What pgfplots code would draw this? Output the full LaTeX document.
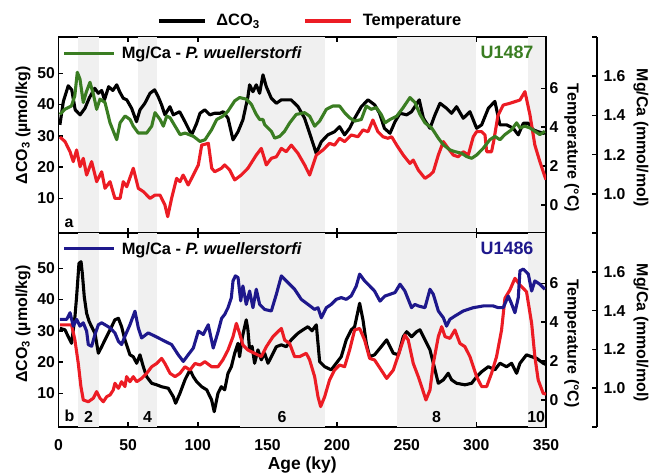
\documentclass[border=0pt]{standalone}
\usepackage{fontspec}
\setmainfont{Liberation Sans}
\usepackage{pgfplots}
\pgfplotsset{compat=1.18}

\definecolor{cgreen}{RGB}{58,125,34}
\definecolor{cblue}{RGB}{30,24,140}
\definecolor{cred}{RGB}{236,28,36}
\definecolor{band}{RGB}{240,240,240}

\newcommand{\lblfont}{\fontsize{16}{18}\selectfont\bfseries}
\newcommand{\tickfont}{\fontsize{15.8}{17}\selectfont\bfseries}
\newcommand{\legfont}{\fontsize{16.5}{18}\selectfont\bfseries}

\pgfplotsset{
  panel/.style={
    scale only axis, width=487.5bp,
    xmin=0, xmax=350,
    clip mode=individual,
    /pgf/number format/assume math mode=true,
    tick label style={font=\tickfont},
    tick align=inside,
    major tick length=5bp,
    axis line style={line width=1.6bp},
    tick style={black, line width=1.5bp},
  },
  series/.style={line width=3.1bp, line join=round},
  mglegend/.style={
    legend style={at={(0.0082,0.918)}, anchor=west, draw=none, fill=none,
      inner sep=0pt, nodes={inner sep=0pt}, font=\legfont,
      /tikz/every odd column/.append style={column sep=6bp}},
    legend image code/.code={\draw[##1] (0bp,0bp) -- (50bp,0bp);},
  },
}

\begin{document}
\begin{tikzpicture}
\useasboundingbox (-58.5bp,-49bp) rectangle (592.5bp,427bp);

% ---------------- Site U1487 (panel a) ----------------
\begin{axis}[panel, at={(0,194bp)}, height=196bp,
  ymin=-1.1, ymax=61.6, ytick={10,20,30,40,50}, ytick pos=left,
  xtick={0,50,...,350}, xtick pos=both, xticklabels={},
  legend columns=2,
  legend style={at={(0.2021,1.0816)}, anchor=west,
    draw=none, fill=none, inner sep=0pt, nodes={inner sep=0pt}, font=\legfont,
    /tikz/every odd column/.append style={column sep=10bp},
    /tikz/every even column/.append style={column sep=44bp}},
  legend image code/.code={\draw[#1] (0bp,0bp) -- (46bp,0bp);},
]
\fill[band] (axis cs:14,-1.1) rectangle (axis cs:29,61.6);
\fill[band] (axis cs:57,-1.1) rectangle (axis cs:71,61.6);
\fill[band] (axis cs:130,-1.1) rectangle (axis cs:191,61.6);
\fill[band] (axis cs:243,-1.1) rectangle (axis cs:300,61.6);
\fill[band] (axis cs:337,-1.1) rectangle (axis cs:350,61.6);
\addplot[series, black, forget plot] coordinates {
(1,33.5) (3.5,41) (7,46) (9.5,44.7) (12,38.3) (15.5,36.7) (19,38.8) (22,42)
(26,45.2) (28.6,43.6) (31,44.5) (33,41.5) (36,45.7) (39,44.5) (41.8,46.3)
(44,44) (46.5,42) (49,41.5) (52.5,38.8) (56,34.5) (58.5,38.3) (62,40.4)
(65.7,43.6) (69,44.7) (71.6,42.5) (74,39.9) (76.4,36.7) (80,39.3) (82.4,36.7)
(87,37.7) (90.8,34.5) (94.4,31.3) (95.6,30.3) (99.2,34) (101.6,37.2) (105,38.3)
(108.7,36.7) (112,37.2) (116,37.2) (118.3,37.7) (121.7,35.6) (125.3,28.7)
(128.9,31.3) (132.4,35.1) (136,42.5) (137.2,46.3) (139.6,44.1) (142,46.3)
(144.4,43.6) (146.8,49.5) (149.2,45.7) (152.8,42) (156.4,40.4) (160,41.5)
(167,41.5) (172,39.3) (176.7,35.6) (181.5,29.2) (185,24.4) (188.7,28.1)
(193.4,30.3) (198.2,31.3) (201.8,32.9) (205.4,30.3) (209,32.4) (212.6,35.6)
(217.4,39.3) (222.2,41.5) (227,39.9) (230.5,37.2) (234,32.4) (238,30.8)
(241.6,34.5) (245.2,37.2) (250,36.7) (253.5,37.7) (259,41.5) (262,35.6)
(266.7,32.4) (270.3,36.7) (273.9,40.4) (278.6,38.8) (282.2,37.2) (285.8,39.3)
(290.6,35.6) (295.4,37.7) (300.2,32.4) (303.8,33.5) (308.6,38.8) (313.3,41)
(316.9,33.5) (321.7,33.5) (326.5,32.4) (330.1,30.3) (333.7,34) (337.3,34)
(340.9,31.9) (344.4,31.3) (348,30.8) (350,31)
};
\addlegendimage{series, black}
\addlegendentry{ΔCO\textsubscript{3}}
\addlegendimage{series, cred}
\addlegendentry{Temperature}
\node[font=\lblfont, rotate=90] at (axis description cs:-0.0728,0.5485)
  {ΔCO\textsubscript{3} (µmol/kg)};
\node[font=\lblfont, anchor=south west] at (axis description cs:0,0)
  [xshift=2.5bp, yshift=1.5bp] {a};
\end{axis}

\begin{axis}[panel, at={(0,194bp)}, height=196bp, hide x axis,
  axis y line*=right, ymin=-1.44, ymax=8.64, ytick={0,2,4,6}]
\addplot[series, cred] coordinates {
(1,3.5) (4.7,3.26) (8.3,2.74) (10.6,2.23) (13,2.83) (15.5,1.97) (17.8,2.4)
(20.2,1.54) (23.8,2.23) (27.4,1.2) (31,1.71) (33.4,0.86) (37,1.2) (40.5,0.34)
(44.2,0.34) (46.5,1.2) (49,0.94) (53.7,1.89) (57.3,0.86) (60.9,0.69) (65.7,0.34)
(69.3,0.51) (72.9,0.51) (76.4,0.0) (78.4,-0.6) (81.2,0.34) (84.8,1.37) (87.2,1.2)
(89.5,1.54) (93.1,1.03) (96.8,1.54) (100.4,2.06) (102.8,3.08) (107.6,3.17)
(110,1.89) (112.2,1.71) (117,1.89) (119.3,2.06) (122.9,1.8) (126.5,1.29)
(131.2,1.54) (136,1.89) (142,2.57) (145.6,2.91) (149.2,2.06) (152.8,2.4)
(156.4,2.48) (160,2.91) (163.5,2.74) (167.1,3.08) (171.9,2.66) (176.7,2.06)
(180.3,1.54) (185.1,2.57) (189.9,2.83) (194.6,3.17) (198.2,3.08) (201.8,3.43)
(205.4,3.26) (210.2,3.6) (215,3.51) (218.6,3.86) (222.2,3.77) (225.7,4.37)
(229.3,3.77) (233,3.51) (236.5,3.43) (239.2,3.51) (242.8,3.08) (247.5,2.57)
(252.3,2.14) (254.7,2.31) (258.3,1.8) (263.1,1.37) (266.7,1.54) (269.1,1.71)
(272.7,2.57) (276.3,3.26) (279.8,2.91) (283.4,2.57) (287,2.48) (290.6,2.74)
(294.2,2.57) (297.8,3.51) (300.2,3.77) (303.8,3.77) (306.2,3.6) (307.4,2.74)
(310.9,2.74) (312.5,3.3) (315.5,4.6) (319.3,5.14) (324.1,5.23) (331.3,5.4)
(334.9,5.83) (338.5,4.63) (342,3.08) (345.6,2.23) (349.2,1.46) (350,1.3)
};
\node[font=\lblfont, rotate=-90] at (axis description cs:1.0527,0.434)
  {Temperature (°C)};
\end{axis}

\begin{axis}[panel, mglegend, at={(0,194bp)}, height=196bp, hide x axis,
  axis y line*=right, axis y line shift=51bp,
  yticklabel style={xshift=3bp},
  ymin=0.8, ymax=1.8, ytick={0.8,1,1.2,1.4,1.6,1.8},
  yticklabels={,1.0,1.2,1.4,1.6,}]
\addplot[series, cgreen] coordinates {
(1,1.405) (4.5,1.431) (9.3,1.448) (11.7,1.5) (13.5,1.62) (15.4,1.586)
(17.8,1.466) (20,1.52) (22.6,1.569) (25,1.509) (27.4,1.431) (29.8,1.483)
(33.4,1.466) (34.6,1.431) (37,1.362) (39.4,1.319) (41.8,1.276) (44.2,1.362)
(47.8,1.397) (51.4,1.379) (53.7,1.345) (57.3,1.31) (63.3,1.31) (66.9,1.345)
(69.3,1.414) (72.9,1.379) (75.3,1.345) (77.7,1.397) (80.1,1.388) (83.7,1.345)
(87.3,1.302) (90.9,1.31) (96.9,1.293) (101.6,1.267) (105.2,1.276) (110,1.328)
(113.6,1.379) (118,1.396) (121.7,1.422) (126.5,1.474) (130,1.491) (134.8,1.483)
(138.4,1.457) (142,1.405) (144.4,1.379) (146.8,1.379) (148,1.353) (152.8,1.319)
(155.2,1.284) (158.8,1.293) (162.3,1.319) (166,1.362) (170.7,1.405)
(176.7,1.414) (180.3,1.396) (183.9,1.345) (187.5,1.371) (192.3,1.431)
(197,1.448) (201.8,1.448) (205.4,1.414) (209,1.388) (212.6,1.371) (217.4,1.379)
(221,1.448) (224.5,1.431) (228.1,1.44) (231.7,1.405) (234.4,1.362) (238,1.379)
(242.8,1.396) (247.5,1.44) (252.3,1.491) (255.9,1.466) (259.5,1.405)
(263.1,1.362) (267.9,1.336) (272.7,1.284) (276.3,1.25) (281,1.224) (284.6,1.215)
(289.4,1.207) (293,1.19) (296.6,1.181) (300.2,1.198) (305,1.233) (309.7,1.276)
(313.3,1.293) (316.9,1.276) (320.5,1.302) (325.3,1.327) (328.9,1.362)
(331.3,1.336) (334.9,1.345) (338.5,1.336) (342,1.319) (345.6,1.302) (349.2,1.319)
};
\addlegendentry{Mg/Ca - \textit{P. wuellerstorfi}}
\node[font=\fontsize{18}{20}\selectfont\bfseries, text=cgreen, anchor=east]
  at (axis description cs:1,1) [xshift=-9bp, yshift=-15bp] {U1487};
\node[font=\lblfont, rotate=-90] at (axis description cs:1.195,0.485)
  {Mg/Ca (mmol/mol)};
\end{axis}

% ---------------- Site U1486 (panel b) ----------------
\begin{axis}[panel, at={(0,0)}, height=194bp,
  ymin=-0.8, ymax=61.3, ytick={10,20,30,40,50}, ytick pos=left,
  xtick={0,50,...,350}, xtick pos=both, xticklabel pos=lower,
  xticklabel style={yshift=-9bp},
]
\fill[band] (axis cs:14,-0.8) rectangle (axis cs:29,61.3);
\fill[band] (axis cs:57,-0.8) rectangle (axis cs:71,61.3);
\fill[band] (axis cs:130,-0.8) rectangle (axis cs:191,61.3);
\fill[band] (axis cs:243,-0.8) rectangle (axis cs:300,61.3);
\fill[band] (axis cs:337,-0.8) rectangle (axis cs:350,61.3);
\addplot[series, black] coordinates {
(1,30.8) (4.7,30.3) (7,28.1) (9.4,26) (11.8,34.5) (13,40.9) (14.7,51.6)
(16.2,52.1) (17.1,48.4) (18.5,40.9) (20.2,35.6) (22,33) (23.8,31.3) (26.2,29.2)
(28.6,22.8) (31,24.9) (33.4,27.1) (37,30.3) (40.5,33.5) (43,34) (45.3,31.3)
(47.7,27.1) (51.3,22.3) (53.7,21.7) (56.1,19.6) (58.5,22.3) (60.9,18.5)
(63.3,15.3) (66.9,13.2) (70.5,12.7) (74,12.1) (78.8,11.6) (82.4,8.9) (84.1,6.8)
(87.2,10) (90.8,14.3) (94.4,17.5) (96.8,15.3) (99.2,13.7) (102.8,12.1)
(106.4,11.1) (109.9,7.9) (111.8,4.1) (114.5,10) (116.9,12.1) (119.3,11.1)
(121.7,16.4) (124.1,18.5) (126.5,22.8) (128.9,26) (130,21.7) (132,28)
(134.8,33.5) (136,30.3) (137.2,23.9) (139,25) (140.8,19.6) (143.2,23.9)
(145.6,20.7) (148,22.8) (150.4,19.6) (152.8,21.7) (156.4,24.9) (160,25.5)
(163.5,24.9) (167.1,27.1) (171.9,29.2) (175.5,30.3) (179.1,31.3) (182,30)
(185.1,31.9) (186.5,25) (187.5,20.1) (191.1,18.5) (195.8,17.5) (199.4,19.6)
(203,21.7) (206.6,27.1) (210.2,30.3) (212.6,31.3) (216.2,38.8) (218.6,33.5)
(221,26) (223.4,21.7) (226.9,22.3) (231.7,24.9) (235.6,27.1) (240.4,22.8)
(244,22.3) (247.5,28.1) (250,29.7) (253.5,28.1) (257.1,29.7) (259.5,30.3)
(263.1,27.1) (266.7,23.9) (270.3,17.5) (272.7,13.2) (276.3,14.3) (279.8,16.4)
(282.2,14.3) (285.8,13.2) (291.8,12.7) (296.6,13.2) (300.2,15.3) (303.8,16.9)
(308.6,18.5) (313.3,17.5) (316.9,19.6) (321.7,18.5) (325.3,19.6) (328.9,16.4)
(331.3,19.6) (336,22.3) (339.7,21.7) (343.2,21.2) (348,19.6) (350,19.2)
};
\node[font=\lblfont, rotate=90] at (axis description cs:-0.0728,0.531)
  {ΔCO\textsubscript{3} (µmol/kg)};
\node[font=\fontsize{17.5}{19}\selectfont\bfseries, anchor=center]
  at (axis description cs:0.5,0) [yshift=-38bp] {Age (ky)};
\node[font=\lblfont, anchor=south west] at (axis description cs:0,0)
  [xshift=2.5bp, yshift=1.5bp] {b};
\node[font=\lblfont, anchor=south] at (axis cs:21.5,-0.8) [yshift=1bp] {2};
\node[font=\lblfont, anchor=south] at (axis cs:64,-0.8) [yshift=1bp] {4};
\node[font=\lblfont, anchor=south] at (axis cs:160.5,-0.8) [yshift=1bp] {6};
\node[font=\lblfont, anchor=south] at (axis cs:271.5,-0.8) [yshift=1bp] {8};
\node[font=\lblfont, anchor=south] at (axis cs:343,-0.8) [yshift=1bp] {10};
\end{axis}

\begin{axis}[panel, at={(0,0)}, height=194bp, hide x axis,
  axis y line*=right, ymin=-1.39, ymax=8.59, ytick={0,2,4,6}]
\addplot[series, cred] coordinates {
(1,3.86) (5.9,3.86) (9.4,3.86) (11.8,3.08) (14.2,1.88) (16.1,0.69) (17.8,0)
(21.4,-0.09) (25,0.09) (27.4,0.43) (29.8,0.09) (32.2,-0.09) (34.6,0.17)
(37,0.26) (39.3,0.51) (40.5,0.86) (43,0.6) (45.3,0.94) (47.7,0.69) (48.9,1.2)
(51.3,0.94) (53.7,1.2) (56.1,0.94) (59.7,1.11) (63.3,1.37) (66.9,1.71)
(70.5,1.88) (74,2.14) (76.4,1.88) (80.1,1.37) (83.7,1.2) (87.2,1.37) (90.8,1.71)
(94.4,1.54) (98,1.88) (101.6,1.8) (105.1,1.97) (109.9,1.71) (114.5,1.71)
(118,2.06) (121.7,2.57) (125.3,3.26) (127.7,3.94) (130,3.43) (132.4,2.83)
(136,2.57) (140.8,2.4) (145.6,2.23) (149.2,2.74) (154,3.26) (158.8,3.6)
(160,3.68) (162.4,3.08) (165.9,2.91) (169.5,2.23) (173.1,2.23) (177.9,2.4)
(180.3,2.06) (183.9,1.2) (186.3,0.17) (188.2,-0.34) (191.1,0.17) (194.6,1.03)
(198.2,1.54) (201.8,1.8) (205.4,1.71) (209,2.57) (212.6,3.6) (216.2,3.68)
(219.8,3.08) (223.4,2.14) (226.9,2.06) (231.7,1.54) (235.6,1.11) (240.4,1.54)
(245.2,2.57) (248.7,3.34) (251.1,3.08) (254.7,1.88) (258.3,1.2) (260.7,0.69)
(263.8,0) (266.7,0.51) (269.1,1.88) (272.7,3.26) (275.1,3.77) (277.5,3.26)
(281,3.17) (284.6,3.6) (288.2,2.91) (291.8,2.74) (295.4,2.23) (300.2,1.2)
(303.8,0.69) (307.4,0.69) (310.9,1.37) (314.5,2.23) (318.1,3.6) (320.5,5.23)
(324.1,5.66) (327.7,6.26) (331.3,5.91) (336,5.57) (339.7,3.94) (342,2.23)
(344.4,1.03) (348,0.34) (350,0.3)
};
\node[font=\lblfont, rotate=-90] at (axis description cs:1.0527,0.431)
  {Temperature (°C)};
\end{axis}

\begin{axis}[panel, mglegend, at={(0,0)}, height=194bp, hide x axis,
  axis y line*=right, axis y line shift=51bp,
  yticklabel style={xshift=3bp},
  ymin=0.8, ymax=1.8, ytick={0.8,1,1.2,1.4,1.6,1.8},
  yticklabels={,1.0,1.2,1.4,1.6,}]
\addplot[series, cblue] coordinates {
(1,1.355) (5.9,1.355) (8.3,1.389) (10.6,1.32) (13,1.355) (15.4,1.32)
(17.8,1.337) (20.2,1.294) (21.4,1.225) (23.8,1.216) (26.2,1.277) (28.6,1.327)
(31,1.337) (33.4,1.327) (37,1.311) (40.5,1.285) (43,1.242) (45.3,1.225)
(47.7,1.268) (51.3,1.327) (54.9,1.397) (57.3,1.311) (59.7,1.259) (64.4,1.285)
(69.3,1.268) (76.4,1.242) (81.2,1.225) (85.9,1.173) (89.6,1.138) (93.2,1.173)
(96.8,1.207) (100.4,1.294) (104,1.277) (107.5,1.327) (111.1,1.207) (114.7,1.294)
(117.1,1.36) (119.3,1.38) (121.7,1.415) (124.1,1.467) (125.3,1.553) (127,1.579)
(128.9,1.57) (130.8,1.45) (132.4,1.527) (134.8,1.432) (137.2,1.501)
(139.6,1.415) (142,1.51) (144.4,1.432) (148,1.406) (152.8,1.398) (156.4,1.484)
(160,1.579) (163.5,1.553) (165.9,1.536) (169.5,1.51) (174.3,1.458)
(179.1,1.432) (183.9,1.406) (186.3,1.415) (188.7,1.363) (192.3,1.415)
(195.8,1.432) (199.4,1.458) (203,1.467) (206.6,1.458) (210.2,1.476)
(213.8,1.527) (216.2,1.588) (219.8,1.553) (223.4,1.527) (226.9,1.501)
(230.8,1.449) (234.4,1.475) (238,1.484) (241.6,1.493) (245.2,1.536)
(248.7,1.501) (253.5,1.415) (255.9,1.432) (258.3,1.424) (263.1,1.415)
(266.7,1.51) (269.1,1.484) (272.7,1.398) (276.3,1.363) (278.6,1.32) (281,1.355)
(284.6,1.372) (290.6,1.398) (297.8,1.415) (305,1.424) (312.1,1.424)
(315.7,1.415) (319.3,1.415) (322.9,1.475) (325,1.44) (327.7,1.389) (330.1,1.467)
(331.3,1.605) (333.7,1.614) (337.3,1.588) (339.7,1.501) (342,1.553)
(345.6,1.536) (349.2,1.51)
};
\addlegendentry{Mg/Ca - \textit{P. wuellerstorfi}}
\node[font=\fontsize{18}{20}\selectfont\bfseries, text=cblue, anchor=east]
  at (axis description cs:1,1) [xshift=-9bp, yshift=-15bp] {U1486};
\node[font=\lblfont, rotate=-90] at (axis description cs:1.195,0.485)
  {Mg/Ca (mmol/mol)};
\end{axis}
\end{tikzpicture}
\end{document}
